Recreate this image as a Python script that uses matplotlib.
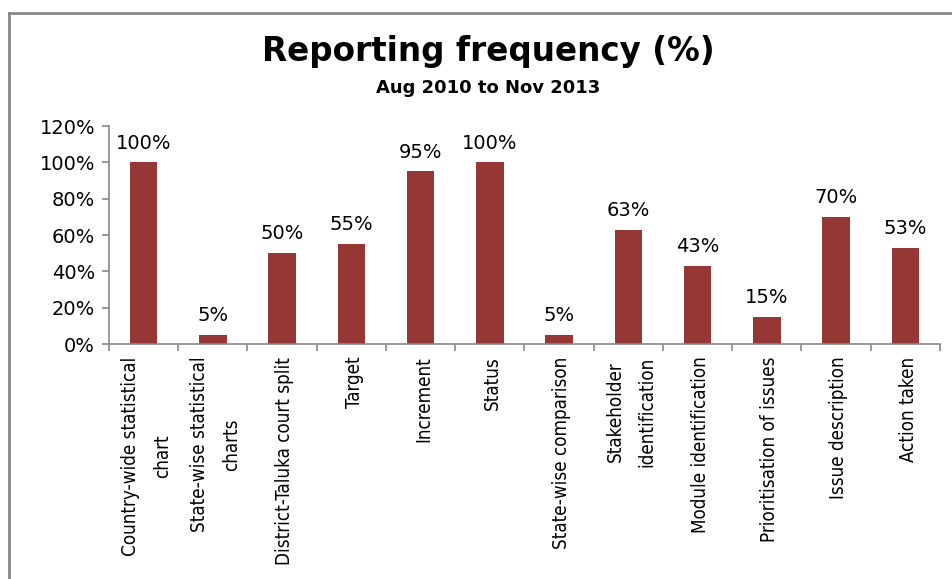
import matplotlib.pyplot as plt
from matplotlib.lines import Line2D
import numpy as np

# categories and reporting frequency (%)
categories = ["Country-wide statistical\nchart", "State-wise statistical\ncharts",
              "District-Taluka court split", "Target", "Increment", "Status",
              "State-wise comparison", "Stakeholder\nidentification",
              "Module identification", "Prioritisation of issues",
              "Issue description", "Action taken"]
values = [100, 5, 50, 55, 95, 100, 5, 63, 43, 15, 70, 53]
yticks = [0, 20, 40, 60, 80, 100, 120]

W, H = 953, 579
fig = plt.figure(figsize=(W / 100, H / 100), dpi=100)
ax = fig.add_axes([109 / W, 1 - 344 / H, (940 - 109) / W, (344 - 126) / H])

x = np.arange(len(categories))
ax.bar(x, values, width=0.4, color="#953735")
for xi, v in zip(x, values):
    ax.annotate(f"{v}%", (xi, v), xytext=(0, 7), textcoords="offset points",
                ha="center", va="bottom", fontsize=14, family="DejaVu Sans")

ax.set_xlim(-0.5, len(categories) - 0.5)
ax.set_ylim(0, 120)
ax.set_yticks(yticks)
ax.set_yticklabels([f"{t}%" for t in yticks], fontsize=14, family="DejaVu Sans")
ax.tick_params(axis="y", length=5, color="#888888", width=1.2, pad=5)

# category labels below, ticks between categories
ax.set_xticks(np.arange(len(categories) + 1) - 0.5)
ax.set_xticklabels([])
ax.tick_params(axis="x", length=5, color="#888888", width=1.2)
for xi, lab in zip(x, categories):
    ax.text(xi + 0.04, -7, lab, rotation=90, ha="center", va="top",
            multialignment="center", linespacing=1.85, fontsize=13.5,
            family="DejaVu Sans", fontstretch="condensed")

for s in ["top", "right"]:
    ax.spines[s].set_visible(False)
for s in ["left", "bottom"]:
    ax.spines[s].set_color("#888888")
    ax.spines[s].set_linewidth(1.2)

fig.text(488 / W, 1 - 61 / H, "Reporting frequency (%)", ha="center", va="baseline",
         fontsize=23.5, fontweight="bold", family="DejaVu Sans")
fig.text(488 / W, 1 - 93 / H, "Aug 2010 to Nov 2013", ha="center", va="baseline",
         fontsize=13, fontweight="bold", family="DejaVu Sans")

# outer frame (top and left edges visible)
fig.add_artist(Line2D([9 / W, 1], [1 - 13 / H, 1 - 13 / H], color="#888888", lw=2))
fig.add_artist(Line2D([9 / W, 9 / W], [0, 1 - 13 / H], color="#888888", lw=2))

fig.savefig("out.png", dpi=100)
